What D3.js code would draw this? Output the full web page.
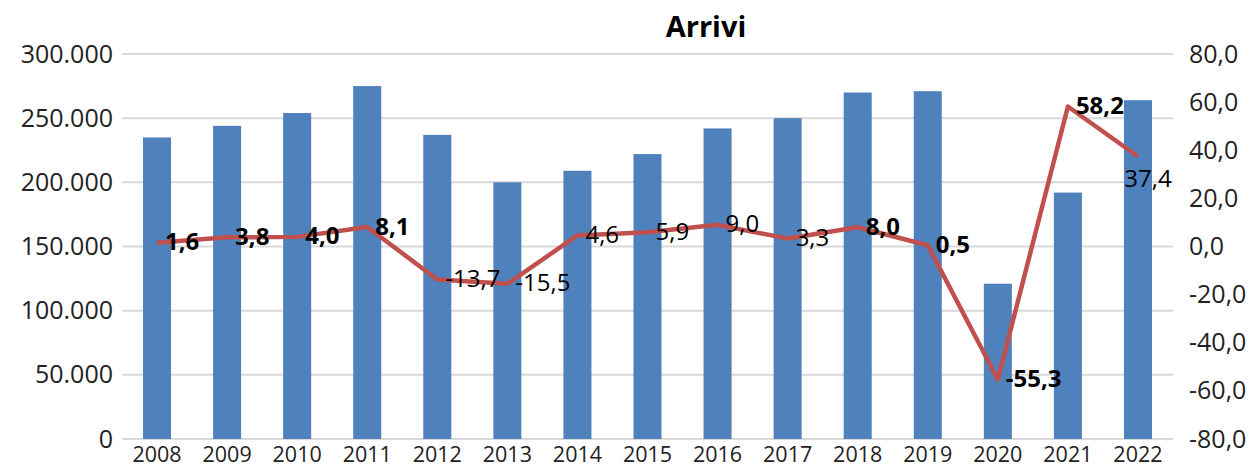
<!DOCTYPE html>
<html>
<head>
  <meta charset="utf-8">
  <style>
    body { margin: 0; background: #fff; }
    svg { display: block; font-family: "Open Sans", sans-serif; }
  </style>
</head>
<body>
  <div id="chart"></div>
  <script src="https://d3js.org/d3.v7.min.js"></script>
  <script>
    // data
    var years = ["2008", "2009", "2010", "2011", "2012", "2013", "2014", "2015",
                 "2016", "2017", "2018", "2019", "2020", "2021", "2022"];
    var arrivi = [235000, 244000, 254000, 275000, 237000, 200000, 209000, 222000,
                  242000, 250000, 270000, 271000, 121000, 192000, 264000];
    var variazione = [1.6, 3.8, 4.0, 8.1, -13.7, -15.5, 4.6, 5.9,
                      9.0, 3.3, 8.0, 0.5, -55.3, 58.2, 37.4];
    var leftTicks = [0, 50000, 100000, 150000, 200000, 250000, 300000];
    var rightTicks = [-80, -60, -40, -20, 0, 20, 40, 60, 80];

    // label look (not data)
    var labelBold = [1, 1, 1, 1, 0, 0, 0, 0, 0, 0, 1, 1, 1, 1, 0];
    var labelBelow = [0, 0, 0, 0, 0, 0, 0, 0, 0, 0, 0, 0, 0, 0, 1];

    var W = 1256, H = 467;
    var margin = {top: 54, right: 83, bottom: 28, left: 122};
    var innerW = W - margin.left - margin.right,
        innerH = H - margin.top - margin.bottom;

    var it = d3.formatLocale({decimal: ",", thousands: ".", grouping: [3], currency: ["€", ""], minus: "-"});
    var fmtLeft = it.format(",.0f");
    var fmtRight = it.format(".1f");

    var svg = d3.select("#chart").append("svg")
        .attr("width", W)
        .attr("height", H);

    var g = svg.append("g")
        .attr("transform", "translate(" + margin.left + "," + margin.top + ")");

    var x = d3.scaleBand()
        .domain(years)
        .range([0, innerW])
        .paddingInner(0.6)
        .paddingOuter(0.3);

    var y = d3.scaleLinear().domain([0, 300000]).range([innerH, 0]);
    var y2 = d3.scaleLinear().domain([-80, 80]).range([innerH, 0]);

    // gridlines
    g.append("g")
      .selectAll("line")
      .data(leftTicks)
      .join("line")
        .attr("x1", 0)
        .attr("x2", innerW)
        .attr("y1", d => y(d))
        .attr("y2", d => y(d))
        .attr("stroke", "#d9d9d9")
        .attr("stroke-width", 2);

    // left axis
    var yAxis = d3.axisLeft(y).tickValues(leftTicks).tickFormat(fmtLeft).tickSize(0).tickPadding(9);
    g.append("g")
        .call(yAxis)
        .call(s => s.select(".domain").remove())
        .selectAll("text")
        .attr("font-size", 25)
        .attr("font-family", "Open Sans, sans-serif")
        .attr("fill", "#222");

    // right axis
    var y2Axis = d3.axisRight(y2).tickValues(rightTicks).tickFormat(fmtRight).tickSize(0).tickPadding(16);
    g.append("g")
        .attr("transform", "translate(" + innerW + ",0)")
        .call(y2Axis)
        .call(s => s.select(".domain").remove())
        .selectAll("text")
        .attr("font-size", 25)
        .attr("font-family", "Open Sans, sans-serif")
        .attr("fill", "#222");

    // x axis
    var xAxis = d3.axisBottom(x).tickSize(0).tickPadding(8);
    g.append("g")
        .attr("transform", "translate(0," + innerH + ")")
        .call(xAxis)
        .call(s => s.select(".domain").remove())
        .selectAll("text")
        .attr("font-size", 21.5)
        .attr("font-family", "Open Sans, sans-serif")
        .attr("fill", "#222");

    // bars
    g.append("g")
      .selectAll("rect")
      .data(arrivi)
      .join("rect")
        .attr("x", (d, i) => x(years[i]))
        .attr("width", x.bandwidth())
        .attr("y", d => y(d))
        .attr("height", d => innerH - y(d))
        .attr("fill", "#4f81bd");

    // line
    var line = d3.line()
        .x((d, i) => x(years[i]) + x.bandwidth() / 2)
        .y(d => y2(d));

    g.append("path")
        .datum(variazione)
        .attr("d", line)
        .attr("fill", "none")
        .attr("stroke", "#c0504d")
        .attr("stroke-width", 4.5)
        .attr("stroke-linejoin", "round");

    // labels
    g.append("g")
      .selectAll("text")
      .data(variazione)
      .join("text")
        .attr("x", (d, i) => x(years[i]) + x.bandwidth() / 2 + (labelBelow[i] ? 10 : 8))
        .attr("y", (d, i) => y2(d) + (labelBelow[i] ? 21 : -2))
        .attr("text-anchor", (d, i) => labelBelow[i] ? "middle" : "start")
        .attr("dominant-baseline", "central")
        .attr("font-size", 24)
        .attr("font-weight", (d, i) => labelBold[i] ? "bold" : "normal")
        .attr("fill", "#000")
        .text(d => fmtRight(d));

    // title
    svg.append("text")
        .attr("x", 706)
        .attr("y", 37)
        .attr("text-anchor", "middle")
        .attr("font-size", 29)
        .attr("font-weight", "bold")
        .attr("fill", "#000")
        .text("Arrivi");
  </script>
</body>
</html>
